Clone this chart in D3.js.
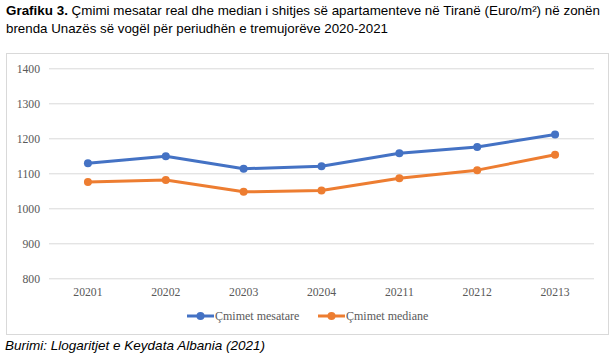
<!DOCTYPE html>
<html><head><meta charset="utf-8">
<script src="https://cdn.jsdelivr.net/npm/d3@7"></script>
<style>body{margin:0;background:#fff;}svg{display:block;}</style>
</head><body>
<svg id="c" width="613" height="356"></svg>
<script>
const categories = ["20201","20202","20203","20204","20211","20212","20213"];
const mesatare = [1129, 1149, 1113, 1120, 1157, 1175, 1211];
const mediane = [1075, 1081, 1047, 1051, 1086, 1109, 1153];
const yTicks = [800, 900, 1000, 1100, 1200, 1300, 1400];
const seriesNames = ["Çmimet mesatare", "Çmimet mediane"];
const colors = ["#4472C4", "#ED7D31"];

const svg = d3.select("#c");
const x = d3.scaleBand().domain(categories).range([49, 594]);
const y = d3.scaleLinear().domain([800, 1400]).range([278.3, 68.3]);

// title
const t1 = svg.append("text").attr("x", 6).attr("y", 15).attr("font-family", "Liberation Sans, Arial, sans-serif")
  .attr("font-size", 13.5).attr("fill", "#000").attr("textLength", 594).attr("lengthAdjust", "spacingAndGlyphs");
t1.append("tspan").attr("font-weight", "bold").text("Grafiku 3. ");
t1.append("tspan").text("Çmimi mesatar real dhe median i shitjes së apartamenteve në Tiranë (Euro/m²) në zonën");
svg.append("text").attr("x", 6).attr("y", 33).attr("font-family", "Liberation Sans, Arial, sans-serif")
  .attr("font-size", 13.5).attr("fill", "#000").attr("textLength", 382).attr("lengthAdjust", "spacingAndGlyphs")
  .text("brenda Unazës së vogël për periudhën e tremujorëve 2020-2021");

// box
svg.append("rect").attr("x", 6.5).attr("y", 53.5).attr("width", 602).attr("height", 281)
  .attr("fill", "none").attr("stroke", "#d9d9d9").attr("stroke-width", 1);

// grid
const yAxis = d3.axisLeft(y).tickValues(yTicks).tickSize(-(594 - 49)).tickPadding(9).tickFormat(d3.format("d"));
const gy = svg.append("g").attr("transform", "translate(49,0)").call(yAxis);
gy.select(".domain").remove();
gy.selectAll(".tick line").attr("stroke", "#d9d9d9").attr("stroke-width", 1);
gy.selectAll(".tick text").attr("font-family", "Liberation Serif, Times New Roman, serif").attr("font-size", 11.7).attr("fill", "#595959");

const xAxis = d3.axisBottom(x).tickSize(0).tickPadding(9);
const gx = svg.append("g").attr("transform", "translate(0,278.3)").call(xAxis);
gx.select(".domain").remove();
gx.selectAll(".tick text").attr("font-family", "Liberation Serif, Times New Roman, serif").attr("font-size", 11.7).attr("fill", "#595959");

// lines
const cx = d => x(d) + x.bandwidth() / 2;
[mesatare, mediane].forEach((vals, i) => {
  const pts = categories.map((c, j) => [cx(c), y(vals[j])]);
  svg.append("path").attr("d", d3.line()(pts)).attr("fill", "none").attr("stroke", colors[i])
    .attr("stroke-width", 3).attr("stroke-linejoin", "round").attr("stroke-linecap", "round");
  svg.selectAll(null).data(pts).enter().append("circle").attr("cx", d => d[0]).attr("cy", d => d[1])
    .attr("r", 4).attr("fill", colors[i]);
});

// legend
const legX = [187, 318];
seriesNames.forEach((n, i) => {
  const g = svg.append("g");
  g.append("line").attr("x1", legX[i]).attr("x2", legX[i] + 27).attr("y1", 316).attr("y2", 316)
    .attr("stroke", colors[i]).attr("stroke-width", 3);
  g.append("circle").attr("cx", legX[i] + 13.5).attr("cy", 316).attr("r", 4).attr("fill", colors[i]);
  g.append("text").attr("x", legX[i] + 28).attr("y", 320).attr("font-family", "Liberation Serif, Times New Roman, serif")
    .attr("font-size", 12).attr("fill", "#595959").text(n);
});

// source
svg.append("text").attr("x", 5).attr("y", 350).attr("font-family", "Liberation Sans, Arial, sans-serif")
  .attr("font-size", 13.5).attr("font-style", "italic").attr("fill", "#000")
  .attr("textLength", 260).attr("lengthAdjust", "spacingAndGlyphs")
  .text("Burimi: Llogaritjet e Keydata Albania (2021)");
</script>
</body></html>
